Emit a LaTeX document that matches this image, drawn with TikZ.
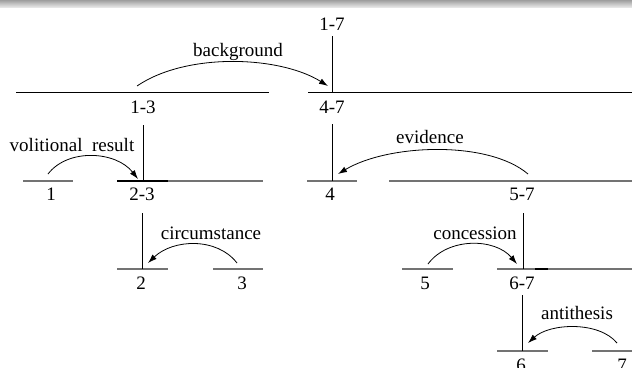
\documentclass[tikz,border=0pt]{standalone}
\usepackage{fontspec}
\setmainfont{Liberation Serif}
\usetikzlibrary{arrows.meta}
\tikzset{
  lab/.style={font=\fontsize{19}{22}\selectfont, inner sep=0pt, anchor=base},
  topseg/.style={line width=1pt, black},
  seg/.style={line width=1.1pt, black!55},
  darkseg/.style={line width=1.1pt, black},
  vbar/.style={line width=1pt, black},
  rel/.style={line width=0.8pt, -{Latex[length=9pt,width=6pt]}},
}
\begin{document}
\begin{tikzpicture}[x=1pt,y=-1pt]
\useasboundingbox (0,0) rectangle (632,367);
\clip (0,0) rectangle (632,367);
% top band
\shade[top color=black!38, bottom color=black!8] (0,0) rectangle (632,7.5);

% span labels
\node[lab] (n17) at (332,30.5) {1-7};
\node[lab] (n13) at (143,113.5) {1-3};
\node[lab] (n47) at (332,113.5) {4-7};
\node[lab] (n1)  at (51,200.5) {1};
\node[lab] (n23) at (142,200.5) {2-3};
\node[lab] (n4)  at (330,200.5) {4};
\node[lab] (n57) at (522,200.5) {5-7};
\node[lab] (n2)  at (141,289.5) {2};
\node[lab] (n3)  at (242,289.5) {3};
\node[lab] (n5)  at (425,289.5) {5};
\node[lab] (n67) at (522,289.5) {6-7};
\node[lab] (n6)  at (521,371.5) {6};
\node[lab] (n7)  at (622,371.5) {7};

% relation labels
\node[lab] (rbg)  at (238,56) {background};
\node[lab] (rvr)  at (72,151) {volitional\ \ result};
\node[lab] (rev)  at (430,143.5) {evidence};
\node[lab] (rci)  at (211,239.5) {circumstance};
\node[lab] (rco)  at (475,239.5) {concession};
\node[lab] (ran)  at (577,319.5) {antithesis};

% horizontal span lines
\draw[topseg] (16,92) -- (269,92);
\draw[topseg] (308,92) -- (640,92);
\draw[seg] (23,181) -- (73,181);
\draw[seg] (117,181) -- (263,181);
\draw[darkseg] (117,181) -- (168,181);
\draw[seg] (307,181) -- (357,181);
\draw[seg] (389,181) -- (640,181);
\draw[seg] (117,269) -- (168,269);
\draw[seg] (213,269) -- (263,269);
\draw[seg] (402,269) -- (453,269);
\draw[seg] (497,269) -- (640,269);
\draw[darkseg] (535,269) -- (548,269);
\draw[seg] (497,351) -- (548,351);
\draw[seg] (592,351) -- (642,351);

% vertical bars (nucleus links)
\coordinate (b17) at (332,92);
\coordinate (b13) at (143,181);
\coordinate (b47) at (332,181);
\coordinate (b23) at (142,269);
\coordinate (b57) at (523,269);
\coordinate (b67) at (522,351);
\draw[vbar] (332,36) -- (b17);
\draw[vbar] (143,125) -- (b13);
\draw[vbar] (332,124) -- (b47);
\draw[vbar] (142,213) -- (b23);
\draw[vbar] (523,213) -- (b57);
\draw[vbar] (522,295) -- (b67);

% relation arcs
\coordinate (s13) at (137,86);   \coordinate (e47) at (328,86);
\coordinate (s1)  at (48,174);   \coordinate (e23) at (138,179);
\coordinate (s3)  at (237,263);  \coordinate (e2)  at (148,263);
\coordinate (s57) at (528,174);  \coordinate (e4)  at (338,174);
\coordinate (s5)  at (428,264);  \coordinate (e67) at (517,264);
\coordinate (s7)  at (617,343);  \coordinate (e6)  at (528,343);
\draw[rel] (s13) .. controls +(50,-34) and +(-48,-30) .. (e47);
\draw[rel] (s1)  .. controls +(20,-26) and +(-22,-28) .. (e23);
\draw[rel] (s3)  .. controls +(-20,-26) and +(25,-24) .. (e2);
\draw[rel] (s57) .. controls +(-40,-34) and +(50,-30) .. (e4);
\draw[rel] (s5)  .. controls +(20,-27) and +(-22,-26) .. (e67);
\draw[rel] (s7)  .. controls +(-18,-22) and +(22,-20) .. (e6);
\end{tikzpicture}
\end{document}
